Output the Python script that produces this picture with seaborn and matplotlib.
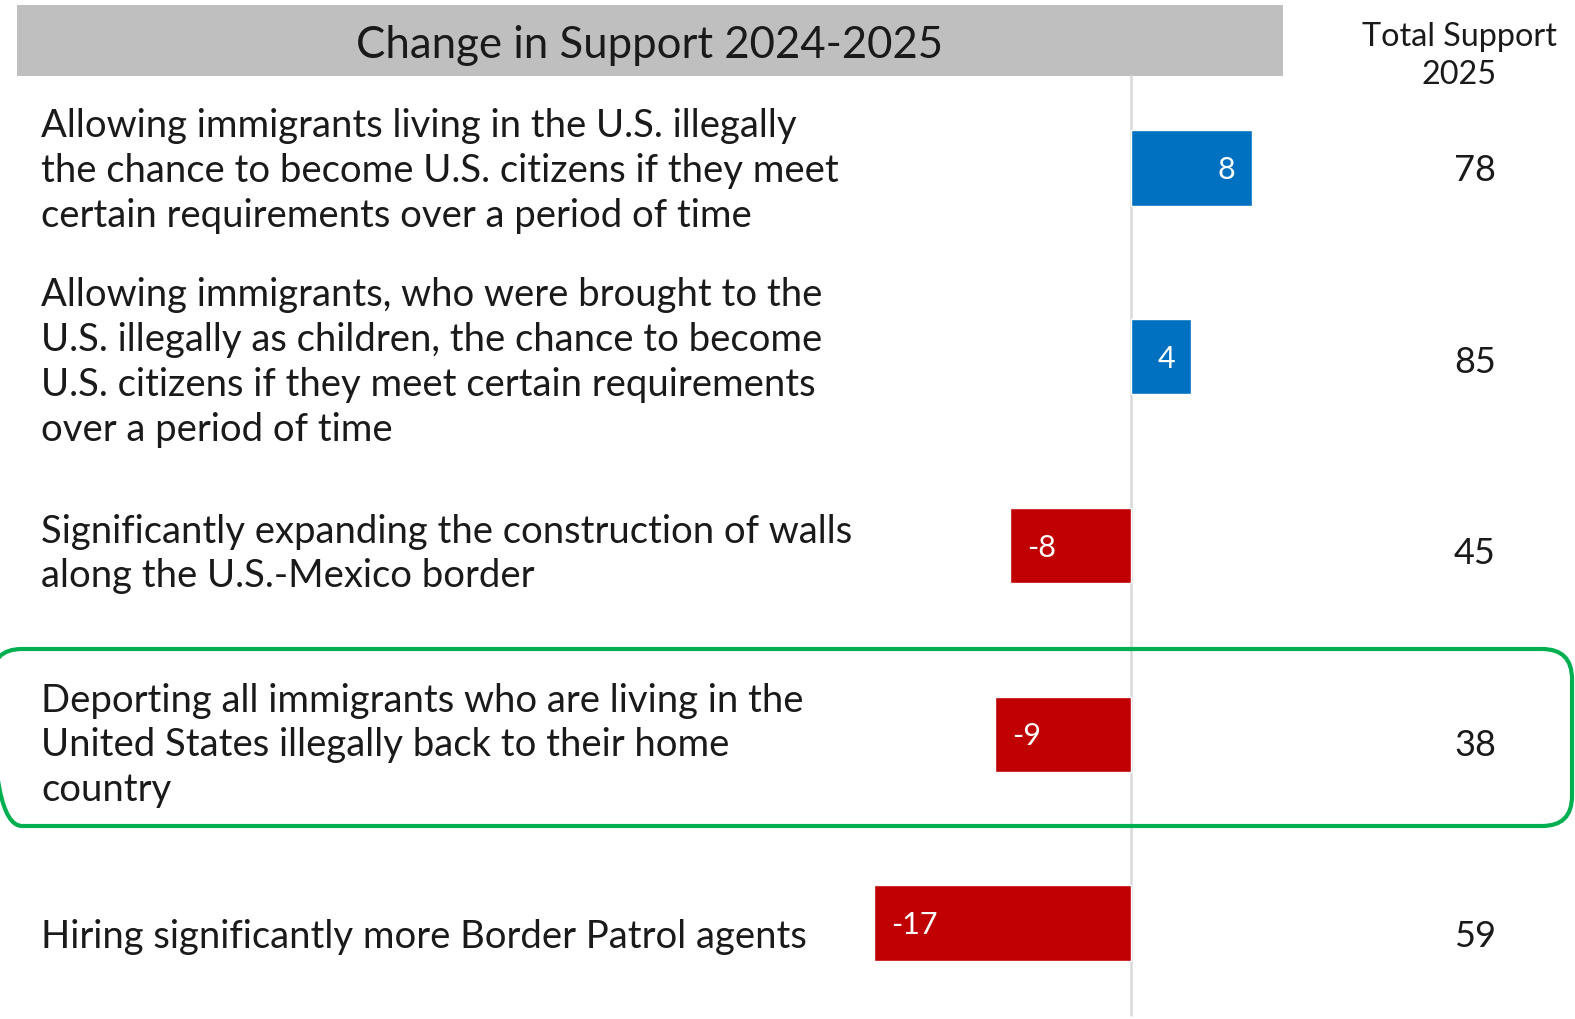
import matplotlib
matplotlib.use("Agg")
import matplotlib.pyplot as plt
import seaborn as sns
import pandas as pd
from matplotlib.patches import Rectangle, FancyBboxPatch
from matplotlib.transforms import IdentityTransform

# Dados do gráfico
policies = [
    "Allowing immigrants living in the U.S. illegally\nthe chance to become U.S. citizens if they meet\ncertain requirements over a period of time",
    "Allowing immigrants, who were brought to the\nU.S. illegally as children, the chance to become\nU.S. citizens if they meet certain requirements\nover a period of time",
    "Significantly expanding the construction of walls\nalong the U.S.-Mexico border",
    "Deporting all immigrants who are living in the\nUnited States illegally back to their home\ncountry",
    "Hiring significantly more Border Patrol agents",
]
change = [8, 4, -8, -9, -17]
total_2025 = [78, 85, 45, 38, 59]

title = "Change in Support 2024-2025"
total_title = "Total Support\n2025"

BLUE = "#0070C0"
RED = "#C00000"
GREY = "#BFBFBF"
GREEN = "#00B050"
INK = "#1a1a1a"

W, H = 1575, 1019
X0 = 1131      # pixel do zero
S = 15.1       # pixels por unidade
ROW0 = 168     # centro da primeira barra (px, a partir do topo)
STEP = 188.8   # distância entre barras
TEXT0 = 171    # centro do primeiro rótulo
TSTEP = 191.5  # distância entre rótulos

sns.set_theme(style="white")
plt.rcParams["font.family"] = ["Lato", "DejaVu Sans"]

fig = plt.figure(figsize=(W / 100, H / 100), dpi=100)
ax = fig.add_axes([0, 0, 1, 1])

df = pd.DataFrame({"policy": [str(i) for i in range(len(policies))], "change": change})
colors = [BLUE if v > 0 else RED for v in change]
sns.barplot(data=df, x="change", y="policy", hue="policy", palette=colors,
            orient="h", width=75.4 / STEP, legend=False, saturation=1, ax=ax, zorder=2)

ax.set_xlim(-X0 / S, (W - X0) / S)
ax.set_ylim((H - ROW0) / STEP, -ROW0 / STEP)
ax.axis("off")


def px_x(px):
    return (px - X0) / S


def px_y(py):
    return (py - ROW0) / STEP


# linha do zero
ax.plot([0, 0], [px_y(76), px_y(1015)], color="#D9D9D9", lw=1.8, zorder=1)

# cabeçalho cinza
fig.add_artist(Rectangle((17, H - 76), 1283 - 17, 71, transform=IdentityTransform(),
                         facecolor=GREY, edgecolor="none", zorder=0))
fig.text(649 / W, 1 - 45 / H, title, ha="center", va="center", fontsize=31.5, color=INK)
fig.text(1459 / W, 1 - 56 / H, total_title, ha="center", va="center",
         fontsize=23.3, color=INK, linespacing=1.3)

for i, (label, v, tot) in enumerate(zip(policies, change, total_2025)):
    ty = px_y(TEXT0 + TSTEP * i)
    ax.text(px_x(41), ty, label, ha="left", va="center", fontsize=27.5,
            color=INK, linespacing=1.3)
    if v > 0:
        ax.text(v - 25 / S, i + 2 / STEP, str(v), ha="center", va="center",
                fontsize=22, color="white", zorder=3)
    else:
        ax.text(v + 17 / S, i + 2 / STEP, str(v), ha="left", va="center",
                fontsize=22, color="white", zorder=3)
    ax.text(px_x(1475), ty, str(tot), ha="center", va="center", fontsize=26, color=INK)

# destaque verde
fig.add_artist(FancyBboxPatch((-8, H - 826), 1580, 177,
                              boxstyle="round,pad=0,rounding_size=30",
                              transform=IdentityTransform(), facecolor="none",
                              edgecolor=GREEN, lw=3, zorder=4))

fig.savefig("out.png", dpi=100)
